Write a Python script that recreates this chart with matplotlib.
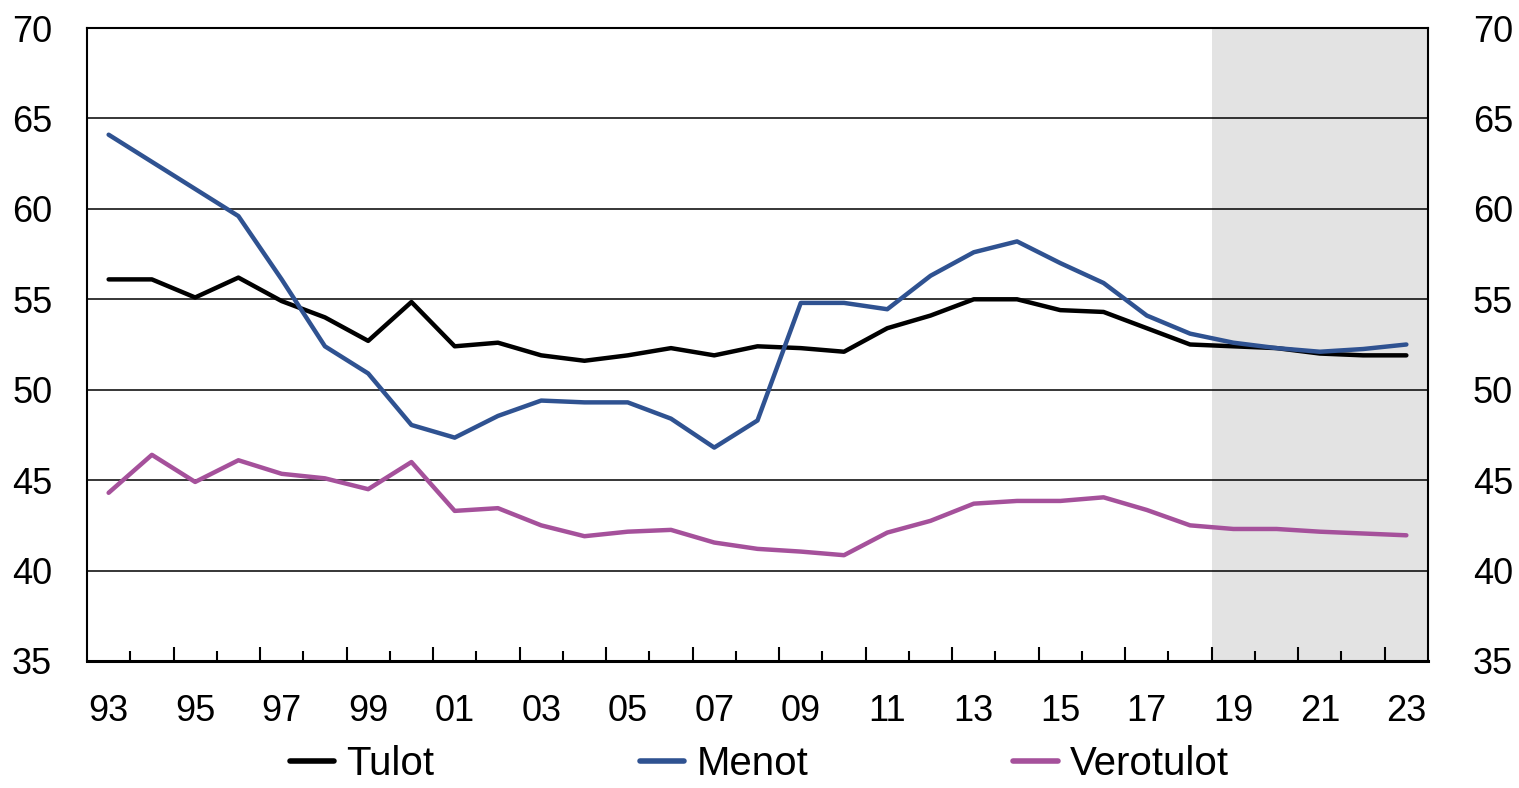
import matplotlib.pyplot as plt
from matplotlib.ticker import FixedLocator, NullFormatter

plt.rcParams['font.family'] = ['Liberation Sans', 'DejaVu Sans']

years = list(range(1993, 2024))
tulot = [56.1, 56.1, 55.1, 56.2, 54.9, 54.0, 52.7, 54.85, 52.4, 52.6,
         51.9, 51.6, 51.9, 52.3, 51.9, 52.4, 52.3, 52.1, 53.4, 54.1,
         55.0, 55.0, 54.4, 54.3, 53.4, 52.5, 52.4, 52.3, 52.0, 51.9, 51.9]
menot = [64.1, 62.6, 61.1, 59.6, 56.1, 52.4, 50.9, 48.05, 47.35, 48.55,
         49.4, 49.3, 49.3, 48.4, 46.8, 48.3, 54.8, 54.8, 54.45, 56.3,
         57.6, 58.2, 57.0, 55.9, 54.1, 53.1, 52.6, 52.3, 52.1, 52.25, 52.5]
verotulot = [44.3, 46.4, 44.9, 46.1, 45.35, 45.1, 44.5, 46.0, 43.3, 43.45,
             42.5, 41.9, 42.15, 42.25, 41.55, 41.2, 41.05, 40.85, 42.1, 42.75,
             43.7, 43.85, 43.85, 44.05, 43.35, 42.5, 42.3, 42.3, 42.15, 42.05, 41.95]
series_names = ['Tulot', 'Menot', 'Verotulot']
colors = ['#000000', '#2F5291', '#A5519B']
forecast_start = 2019

x = list(range(len(years)))

fig = plt.figure(figsize=(15.19, 7.88), dpi=100)
ax = fig.add_axes([87 / 1519, 1 - 661 / 788, (1428 - 87) / 1519, (661 - 28) / 788])

# forecast shading
ax.axvspan(years.index(forecast_start) - 0.5, len(years) - 0.5, color='#E3E3E3', zorder=0, lw=0)

for vals, name, c in zip([tulot, menot, verotulot], series_names, colors):
    ax.plot(x, vals, color=c, lw=3.2, label=name, solid_capstyle='round', zorder=3)

ax.set_xlim(-0.5, len(years) - 0.5)
ax.set_ylim(35, 70)
ax.set_yticks(range(35, 71, 5))
for yv in range(40, 70, 5):
    ax.axhline(yv, color='black', lw=1.1, zorder=1)

# x ticks at category boundaries, long/short alternating
ax.xaxis.set_major_locator(FixedLocator([k - 0.5 for k in range(2, len(years), 2)]))
ax.xaxis.set_minor_locator(FixedLocator([k - 0.5 for k in range(1, len(years), 2)]))
ax.xaxis.set_major_formatter(NullFormatter())
ax.tick_params(axis='x', which='major', direction='in', length=10, width=1.5)
ax.tick_params(axis='x', which='minor', direction='in', length=7, width=1.5)

# year labels at the data points
sec = ax.secondary_xaxis('bottom')
sec.set_xticks(x[::2])
sec.set_xticklabels(['%02d' % (y % 100) for y in years[::2]])
sec.tick_params(length=0, pad=24, labelsize=26)
sec.spines['bottom'].set_visible(False)

ax.tick_params(axis='y', which='both', length=0, labelsize=26, pad=25,
               right=True, labelright=True)

for side in ['left', 'right', 'top']:
    ax.spines[side].set_linewidth(1.5)
ax.spines['bottom'].set_linewidth(2.2)

fig.canvas.draw()
# right labels a bit further out
for t in ax.yaxis.get_major_ticks():
    t.label2.set_x(1 + 10 / 1341)

leg = fig.legend(loc='center', bbox_to_anchor=(0.500, 0.030), ncol=3, frameon=False,
                 fontsize=29, handlelength=1.1, handletextpad=0.3, columnspacing=5.1,
                 borderaxespad=0, borderpad=0)
for h in leg.get_lines():
    h.set_linewidth(4)

fig.savefig('out.png', dpi=100)
